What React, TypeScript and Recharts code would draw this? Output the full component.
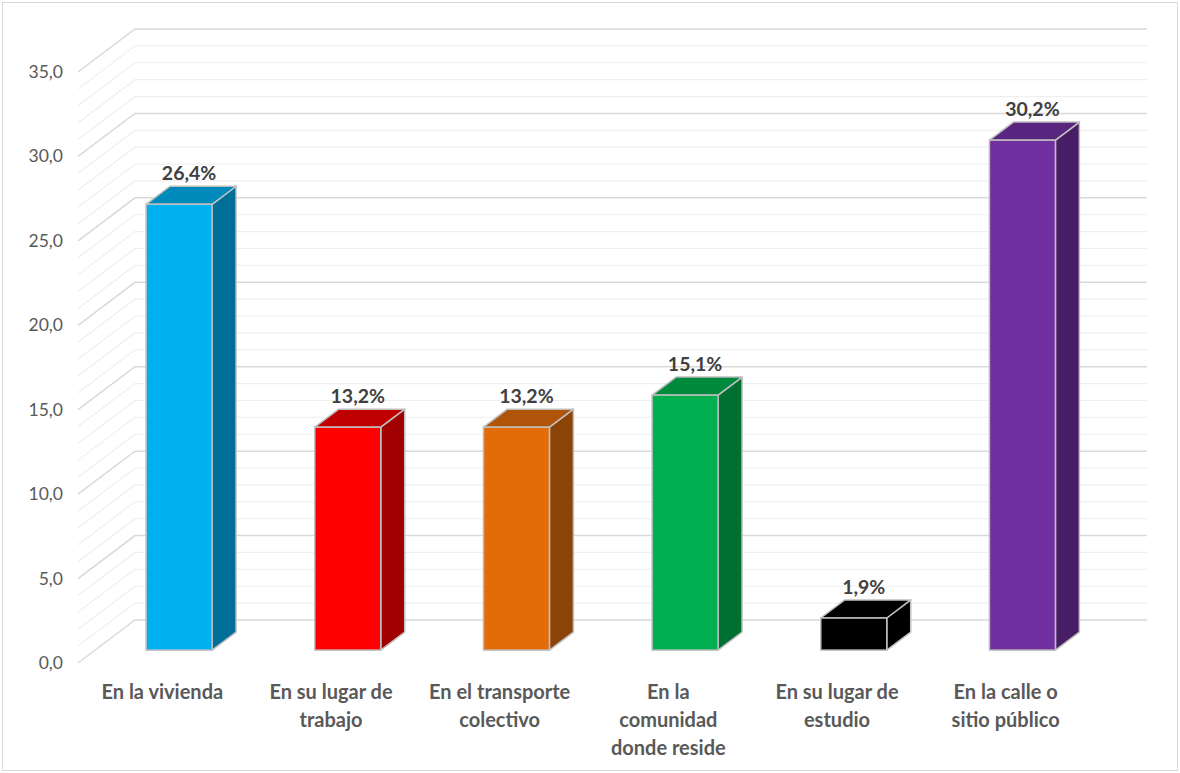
import { Bar, BarChart, CartesianGrid, LabelList, XAxis, YAxis } from "recharts";

const CATEGORIES = [
  "En la vivienda",
  "En su lugar de trabajo",
  "En el transporte colectivo",
  "En la comunidad donde reside",
  "En su lugar de estudio",
  "En la calle o sitio público",
];
const TICK_LINES = [
  ["En la vivienda"],
  ["En su lugar de", "trabajo"],
  ["En el transporte", "colectivo"],
  ["En la", "comunidad", "donde reside"],
  ["En su lugar de", "estudio"],
  ["En la calle o", "sitio público"],
];
const VALUES = [26.4, 13.2, 13.2, 15.1, 1.9, 30.2];
const GRID_TICKS = [
  0, 1, 2, 3, 4, 5, 6, 7, 8, 9, 10, 11, 12, 13, 14, 15, 16, 17, 18, 19, 20, 21, 22, 23, 24, 25, 26, 27, 28,
  29, 30, 31, 32, 33, 34, 35,
];

// front / top / side colours for each box
const COLORS = [
  ["#00B0F0", "#0089BB", "#006F98"],
  ["#FF0000", "#C00000", "#A00000"],
  ["#E36C09", "#B0540A", "#8B4306"],
  ["#00B050", "#008A3E", "#006F32"],
  ["#000000", "#000000", "#000000"],
  ["#7030A0", "#58257F", "#471E66"],
];

const data = CATEGORIES.map((name, i) => ({ name, value: VALUES[i] }));

// depth of the 3d box, as offsets from the front plane
const DX = 57;
const DY = 43;
const F0 = 0.3;
const F1 = 0.72;
const FONT = "Lato, 'Open Sans', sans-serif";

function GridLine(props: any) {
  const { x1, y1, x2, y, height, index } = props;
  const v = index ?? Math.round(((y + height - y1) / height) * 35);
  const major = v % 5 === 0;
  return (
    <polyline
      points={`${x1},${y1} ${x1 + DX},${y1 - DY} ${x2 + DX},${y1 - DY}`}
      fill="none"
      stroke={major ? "#d9d9d9" : "#efefef"}
      strokeWidth={major ? 1.5 : 1.2}
    />
  );
}

function Box(props: any) {
  const { x, y, width, height, index } = props;
  const [front, top, side] = COLORS[index];
  const fx = x + F0 * DX;
  const fy = y - F0 * DY;
  const d = (F1 - F0) * DX;
  const e = (F1 - F0) * DY;
  const stroke = "#bfbfbf";
  return (
    <g>
      <polygon
        points={`${fx + width},${fy} ${fx + width + d},${fy - e} ${fx + width + d},${fy + height - e} ${fx + width},${fy + height}`}
        fill={side}
        stroke={stroke}
        strokeWidth={1.5}
        strokeLinejoin="round"
      />
      <polygon
        points={`${fx},${fy} ${fx + d},${fy - e} ${fx + width + d},${fy - e} ${fx + width},${fy}`}
        fill={top}
        stroke={stroke}
        strokeWidth={1.5}
        strokeLinejoin="round"
      />
      <rect x={fx} y={fy} width={width} height={height} fill={front} stroke={stroke} strokeWidth={1.5} />
    </g>
  );
}

function ValueLabel(props: any) {
  const { x, y, width, value } = props;
  return (
    <text
      x={x + F0 * DX + width / 2 + 10}
      y={y - F1 * DY - 6}
      textAnchor="middle"
      fontFamily={FONT}
      fontWeight="bold"
      fontSize={19.5}
      fill="#404040"
    >
      {value.toFixed(1).replace(".", ",")}%
    </text>
  );
}

function YTick(props: any) {
  const { x, y, payload } = props;
  if (payload.value % 5 !== 0) return null;
  return (
    <text x={x - 7} y={y} dy={6} textAnchor="end" fontFamily={FONT} fontSize={17.5} fill="#595959">
      {payload.value.toFixed(1).replace(".", ",")}
    </text>
  );
}

function XTick(props: any) {
  const { x, y, index } = props;
  const lines = TICK_LINES[index] ?? [];
  return (
    <text textAnchor="middle" fontFamily={FONT} fontWeight="bold" fontSize={20} fill="#595959">
      {lines.map((line, i) => (
        <tspan key={i} x={x} y={y + 28 + i * 28}>
          {line}
        </tspan>
      ))}
    </text>
  );
}

export default function App() {
  return (
    <div style={{ position: "absolute", left: 0, top: 0, width: 1180, height: 773, background: "#fff" }}>
      <div
        style={{
          position: "absolute",
          left: 2,
          top: 2,
          width: 1176,
          height: 769,
          border: "1px solid #d9d9d9",
          boxSizing: "border-box",
        }}
      />
      <BarChart
        width={1180}
        height={773}
        data={data}
        margin={{ top: 72, right: 90, bottom: 10, left: 18 }}
        barSize={66}
      >
        <CartesianGrid vertical={false} horizontal={GridLine} />
        <XAxis dataKey="name" axisLine={false} tickLine={false} height={100} interval={0} tick={XTick} />
        <YAxis
          width={60}
          domain={[0, 35]}
          ticks={GRID_TICKS}
          interval={0}
          axisLine={false}
          tickLine={false}
          tick={YTick}
        />
        <Bar dataKey="value" shape={Box} isAnimationActive={false}>
          <LabelList dataKey="value" content={ValueLabel} />
        </Bar>
      </BarChart>
    </div>
  );
}
